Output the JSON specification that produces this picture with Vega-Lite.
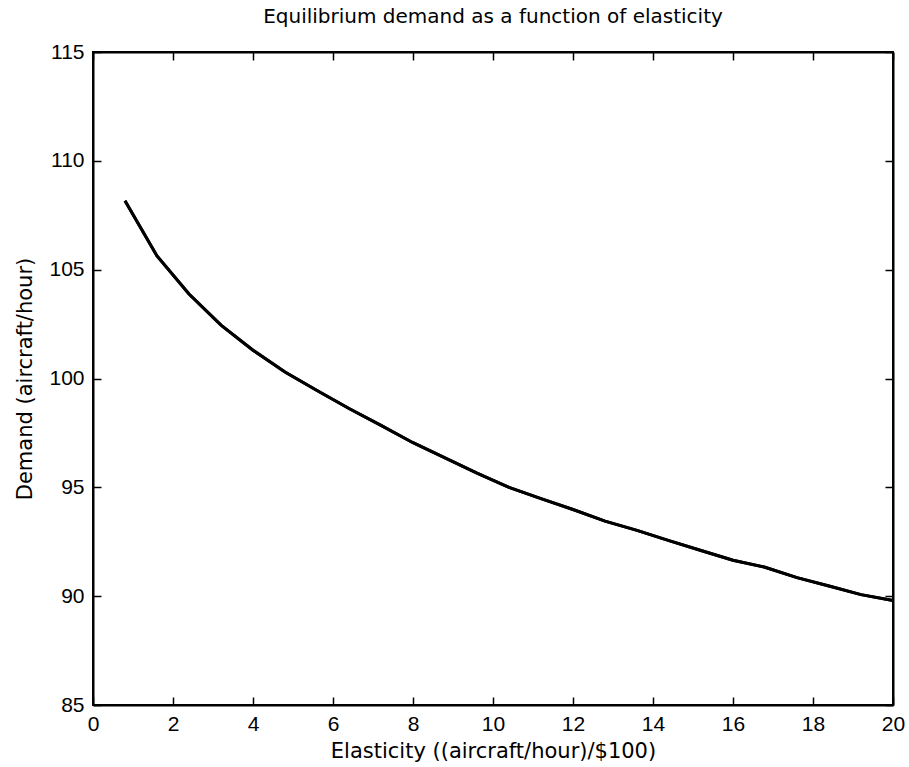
{
  "$schema": "https://vega.github.io/schema/vega-lite/v6.json",
  "width": 800,
  "height": 653,
  "autosize": {"type": "none"},
  "padding": {"left": 93, "top": 52, "right": 16, "bottom": 62},
  "background": "white",
  "title": {
    "text": "Equilibrium demand as a function of elasticity",
    "font": "DejaVu Sans",
    "fontSize": 20,
    "fontWeight": "normal",
    "color": "black",
    "anchor": "middle",
    "offset": 14
  },
  "config": {
    "view": {"stroke": "black", "strokeWidth": 2},
    "axis": {
      "domain": true,
      "domainColor": "black",
      "domainWidth": 2,
      "grid": false,
      "ticks": true,
      "tickColor": "black",
      "tickWidth": 1.5,
      "tickSize": -8,
      "labelColor": "black",
      "labelFont": "Liberation Sans",
      "labelFontSize": 21,
      "titleFont": "DejaVu Sans",
      "titleFontSize": 21,
      "titleFontWeight": "normal",
      "titleColor": "black"
    }
  },
  "data": {
    "values": [
      {"elasticity": 0.8, "demand": 108.17},
      {"elasticity": 1.6, "demand": 105.63},
      {"elasticity": 2.4, "demand": 103.88},
      {"elasticity": 3.2, "demand": 102.45},
      {"elasticity": 4.0, "demand": 101.3},
      {"elasticity": 4.8, "demand": 100.3},
      {"elasticity": 5.6, "demand": 99.45},
      {"elasticity": 6.4, "demand": 98.62},
      {"elasticity": 7.2, "demand": 97.85},
      {"elasticity": 8.0, "demand": 97.05},
      {"elasticity": 8.8, "demand": 96.35},
      {"elasticity": 9.6, "demand": 95.65},
      {"elasticity": 10.4, "demand": 95.0},
      {"elasticity": 11.2, "demand": 94.48},
      {"elasticity": 12.0, "demand": 93.98},
      {"elasticity": 12.8, "demand": 93.45},
      {"elasticity": 13.6, "demand": 93.02},
      {"elasticity": 14.4, "demand": 92.55},
      {"elasticity": 15.2, "demand": 92.1},
      {"elasticity": 16.0, "demand": 91.65},
      {"elasticity": 16.8, "demand": 91.33},
      {"elasticity": 17.6, "demand": 90.85},
      {"elasticity": 18.4, "demand": 90.47},
      {"elasticity": 19.2, "demand": 90.07},
      {"elasticity": 20.0, "demand": 89.8}
    ]
  },
  "layer": [
    {
      "mark": {"type": "line", "color": "black", "strokeWidth": 3},
      "encoding": {
        "x": {
          "field": "elasticity",
          "type": "quantitative",
          "scale": {"domain": [0, 20], "nice": false, "zero": false},
          "axis": {
            "orient": "bottom",
            "values": [0, 2, 4, 6, 8, 10, 12, 14, 16, 18, 20],
            "title": "Elasticity ((aircraft/hour)/$100)",
            "labelPadding": 16,
            "titleY": 46,
            "titleBaseline": "middle",
            "labelFlush": false
          }
        },
        "y": {
          "field": "demand",
          "type": "quantitative",
          "scale": {"domain": [85, 115], "nice": false, "zero": false},
          "axis": {
            "orient": "left",
            "values": [85, 90, 95, 100, 105, 110, 115],
            "title": "Demand (aircraft/hour)",
            "labelPadding": 17,
            "titleX": -68,
            "titleBaseline": "middle",
            "labelFlush": false
          }
        }
      }
    },
    {
      "mark": {"type": "line", "color": "black", "strokeWidth": 3},
      "encoding": {
        "x": {
          "field": "elasticity",
          "type": "quantitative",
          "scale": {"domain": [0, 20], "nice": false, "zero": false},
          "axis": {
            "orient": "top",
            "values": [0, 2, 4, 6, 8, 10, 12, 14, 16, 18, 20],
            "labels": false,
            "title": null
          }
        },
        "y": {
          "field": "demand",
          "type": "quantitative",
          "scale": {"domain": [85, 115], "nice": false, "zero": false},
          "axis": {
            "orient": "right",
            "values": [85, 90, 95, 100, 105, 110, 115],
            "labels": false,
            "title": null
          }
        }
      }
    }
  ],
  "resolve": {"axis": {"x": "independent", "y": "independent"}}
}
